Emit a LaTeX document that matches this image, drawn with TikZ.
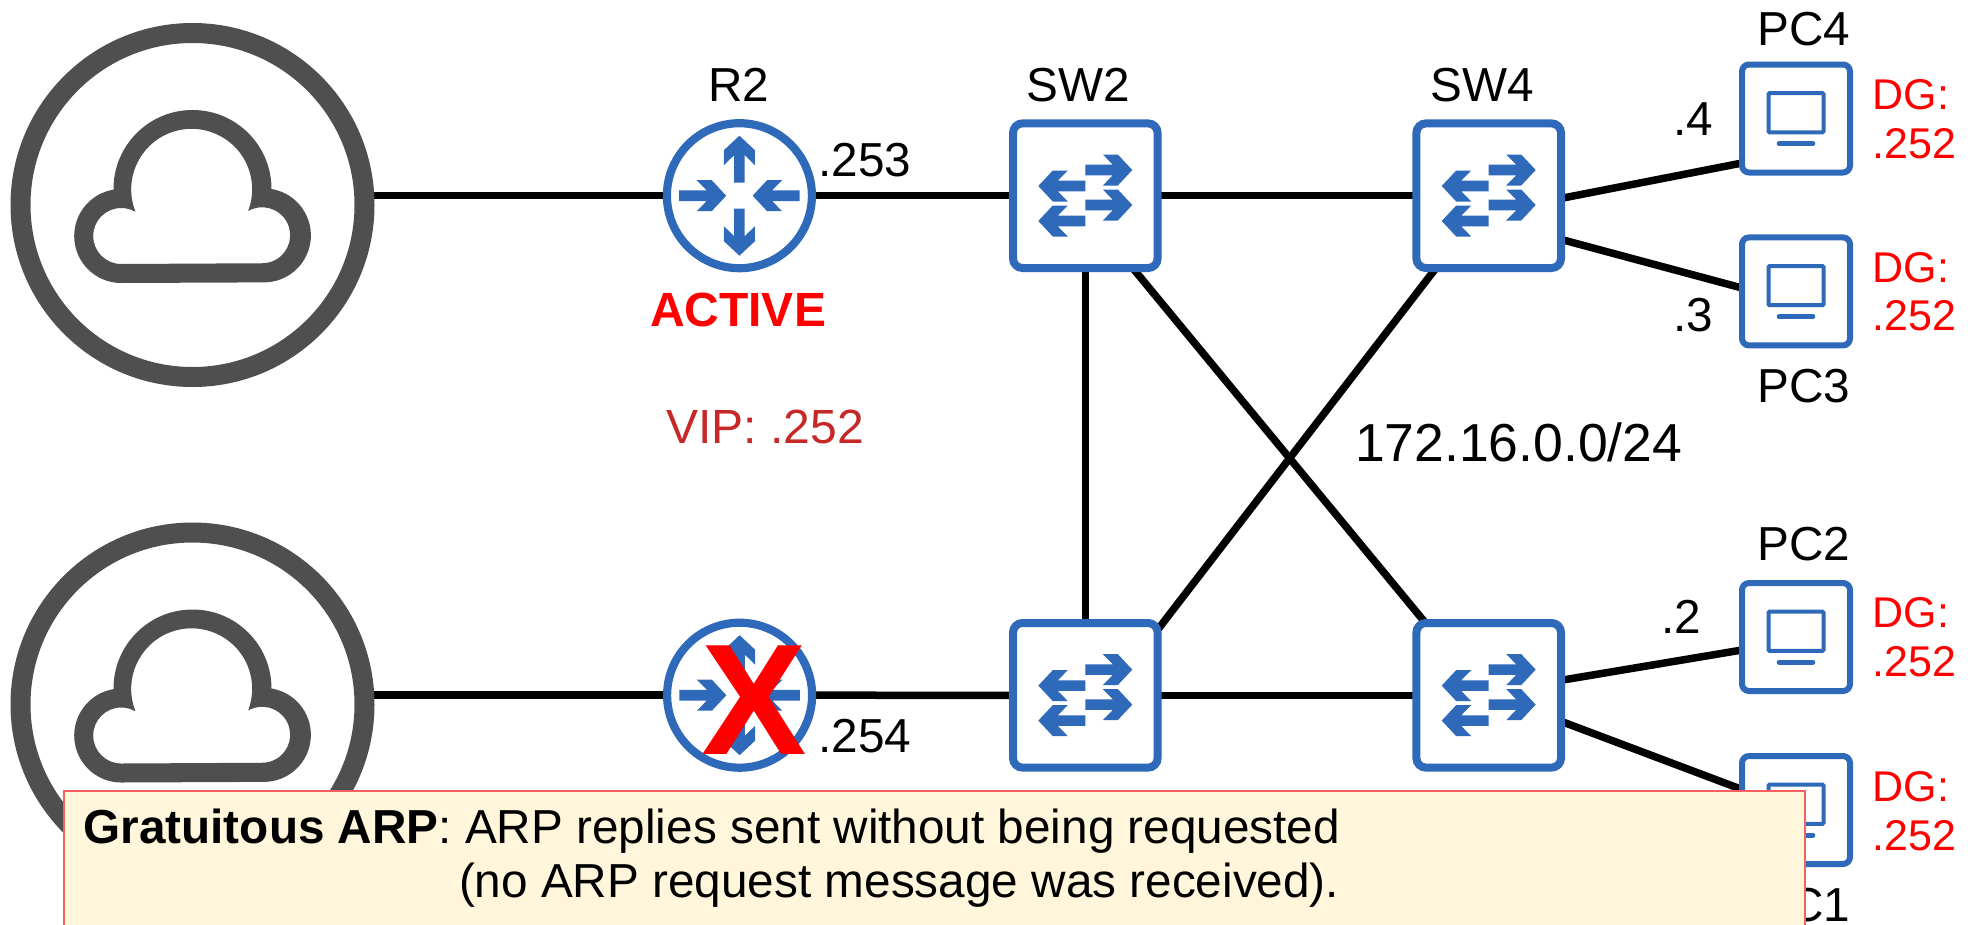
\documentclass[tikz,border=0pt]{standalone}
\usepackage{fontspec}
\setmainfont{Liberation Sans}
\usetikzlibrary{backgrounds,calc}
\definecolor{iconblue}{HTML}{2E69BA}
\definecolor{icongray}{HTML}{4F4F4F}
\definecolor{vipred}{HTML}{C62828}
\definecolor{notefill}{HTML}{FFF6DC}
\definecolor{noteline}{HTML}{F86060}
\newcommand{\iconarrow}[3]{\fill[iconblue,shift={(#1,#2)},rotate=#3] (0,5.3)--(27.5,5.3)--(17.5,15.5)--(32.5,15.5)--(47,0)--(32.5,-15.5)--(17.5,-15.5)--(27.5,-5.3)--(0,-5.3)--cycle;}
\tikzset{
  lbl/.style={inner sep=0pt,outer sep=0pt,font=\fontsize{47.7}{54}\selectfont,text=black},
  dglbl/.style={lbl,anchor=base west,font=\fontsize{43}{48}\selectfont,text=red},
  link/.style={draw=black,line width=7.5pt},
  cloudbox/.style={circle,draw=icongray,fill=white,line width=20pt,minimum size=344pt,inner sep=0pt,outer sep=0pt},
  routerbox/.style={circle,draw=iconblue,fill=white,line width=8.2pt,minimum size=145pt,inner sep=0pt,outer sep=0pt},
  switchbox/.style={rectangle,rounded corners=9.5pt,draw=iconblue,fill=white,line width=8pt,minimum size=144.6pt,inner sep=0pt,outer sep=0pt},
  pcbox/.style={rectangle,rounded corners=7pt,draw=iconblue,fill=white,line width=6pt,minimum size=108pt,inner sep=0pt,outer sep=0pt},
  notebox/.style={rectangle,draw=noteline,fill=notefill,line width=1.5pt,inner sep=0pt,outer sep=0pt,anchor=north west},
  pics/cloudicon/.style={code={
    \begin{scope}[y=1pt]
    \fill[icongray,even odd rule]
      (-79,16) arc (180:0:79) arc (80.7:-90:47) -- (-71.3,-78) arc (-90:-260.7:47) -- cycle
      (-57.3,-6) arc (201:-21:60.5) arc (120:-90:28) -- (-71.3,-59) arc (-90:-300:28) -- cycle;
    \end{scope}
  }},
  pics/routericon/.style={code={
    \begin{scope}[y=1pt]
    \iconarrow{-60.2}{0}{0}
    \iconarrow{60.2}{0}{180}
    \iconarrow{0}{13}{90}
    \iconarrow{0}{-13}{-90}
    \end{scope}
  }},
  pics/switchicon/.style={code={
    \begin{scope}[y=1pt]
    \iconarrow{0}{25.7}{0}
    \iconarrow{0}{-9.3}{0}
    \iconarrow{0}{9.7}{180}
    \iconarrow{0}{-25.3}{180}
    \end{scope}
  }},
  pics/pcicon/.style={code={
    \begin{scope}[y=1pt]
    \draw[iconblue,line width=4pt,rounded corners=1pt] (-27.5,25.3) rectangle (27.5,-13.8);
    \draw[iconblue,line width=4.6pt,line cap=round] (-17,-25.2) -- (17,-25.2);
    \end{scope}
  }},
}
\begin{document}
\begin{tikzpicture}[x=1pt,y=-1pt]
\useasboundingbox (0,0) rectangle (1978,924);
% nodes
\node[cloudbox] (cloudA) at (192.5,205) {};
\node[cloudbox] (cloudB) at (192.5,704.5) {};
\node[routerbox] (routerA) at (739.4,195.7) {};
\node[routerbox] (routerB) at (739.6,695.2) {};
\node[switchbox] (swA) at (1085.3,195.7) {};
\node[switchbox] (swB) at (1488.7,195.7) {};
\node[switchbox] (swC) at (1085.3,695.3) {};
\node[switchbox] (swD) at (1488.7,695.3) {};
\node[pcbox] (pcD) at (1796,118.5) {};
\node[pcbox] (pcC) at (1796,291.4) {};
\node[pcbox] (pcB) at (1796,637) {};
\node[pcbox] (pcA) at (1796,810) {};
% icons
\pic at (cloudA) {cloudicon};
\pic at (cloudB) {cloudicon};
\pic at (routerA) {routericon};
\pic at (routerB) {routericon};
\pic at (swA) {switchicon};
\pic at (swB) {switchicon};
\pic at (swC) {switchicon};
\pic at (swD) {switchicon};
\pic at (pcA) {pcicon};
\pic at (pcB) {pcicon};
\pic at (pcC) {pcicon};
\pic at (pcD) {pcicon};
% connectors
\begin{pgfonlayer}{background}
\draw[link] (cloudA.east |- routerA.west) -- (routerA.west);
\draw[link] (cloudB.east |- routerB.west) -- (routerB.west);
\draw[link] (routerA) -- (swA);
\draw[link] (routerB) -- (swC);
\draw[link] (swA) -- (swB);
\draw[link] (swC) -- (swD);
\draw[link] (swA) -- (swC);
\draw[link] ([xshift=47.4pt]swA.south) -- ([xshift=-63.2pt]swD.north);
\draw[link] ([xshift=-52.7pt]swB.south) -- ([yshift=-6.8pt]swC.north east);
\draw[link] ([yshift=-2.7pt]swB.east) -- ([yshift=-44.5pt]pcD.west);
\draw[link] ([yshift=-43.7pt]swB.east) -- ([yshift=3.4pt]pcC.west);
\draw[link] ([yshift=15pt]swD.east) -- ([yshift=-13pt]pcB.west);
\draw[link] ([yshift=-26pt]swD.east) -- ([yshift=20.5pt]pcA.west);
\end{pgfonlayer}
% labels
\node[lbl,anchor=base] (tR) at (739,101) {R2};
\node[lbl,anchor=base] (tSa) at (1078.6,101) {SW2};
\node[lbl,anchor=base] (tSb) at (1482,101) {SW4};
\node[lbl,anchor=base] (tPd) at (1804,45) {PC4};
\node[lbl,anchor=base] (tPc) at (1804,402) {PC3};
\node[lbl,anchor=base] (tPb) at (1804,560) {PC2};
\node[lbl,anchor=base] (tPa) at (1804,921) {PC1};
\node[lbl,anchor=base] (t4) at (1693,135) {.4};
\node[lbl,anchor=base] (t3) at (1693,331) {.3};
\node[lbl,anchor=base] (t2) at (1681,633) {.2};
\node[lbl,anchor=base west] (t253) at (818.5,176) {.253};
\node[lbl,anchor=base west] (t254) at (818.5,752) {.254};
\node[lbl,anchor=base west] (tnet) at (1355,461.7) {\fontsize{53.5}{60}\selectfont 172.16.0.0/24};
\node[lbl,anchor=base,text=red,font=\fontsize{48}{54}\selectfont\bfseries] (tact) at (738,326.7) {ACTIVE};
\node[lbl,anchor=base,text=vipred,font=\fontsize{48}{54}\selectfont] (tvip) at (765,443) {VIP: .252};
\node[dglbl] (dgd1) at (1872.5,109) {DG:};
\node[dglbl] (dgd2) at (1872.5,158) {.252};
\node[dglbl] (dgc1) at (1872.5,282) {DG:};
\node[dglbl] (dgc2) at (1872.5,330.5) {.252};
\node[dglbl] (dgb1) at (1872.5,627.5) {DG:};
\node[dglbl] (dgb2) at (1872.5,676.5) {.252};
\node[dglbl] (dga1) at (1872.5,801) {DG:};
\node[dglbl] (dga2) at (1872.5,850) {.252};
\node[lbl,text=red,font=\fontsize{158}{158}\selectfont\bfseries] (xmark) at (754,699.7) {X};
% note
\node[notebox,minimum width=1741pt,minimum height=140pt] (note) at (64,791) {};
\node[lbl,anchor=base west] (noteA) at (83.5,843) {\textbf{Gratuitous ARP}: ARP replies sent without being requested};
\node[lbl,anchor=base west] (noteB) at (459,897) {(no ARP request message was received).};
\end{tikzpicture}
\end{document}
